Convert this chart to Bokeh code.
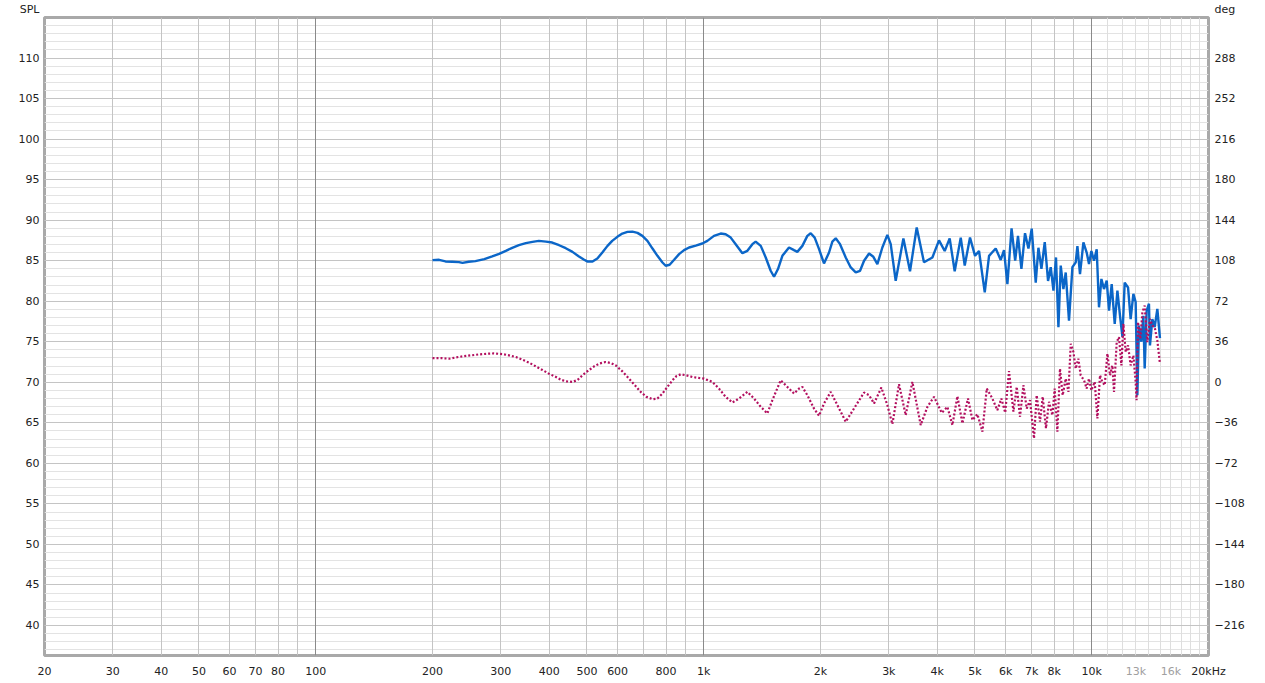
from bokeh.plotting import figure
from bokeh.models import FixedTicker, Grid, LinearAxis, LogAxis, Range1d
from bokeh.embed import file_html
from bokeh.resources import INLINE

# ---- data ----
spl_freq = [200, 208, 216, 225, 234, 239, 248, 258, 272, 285, 297, 309, 321, 334, 348, 362,
            376, 392, 407, 424, 441, 459, 477, 492, 501, 517, 532, 548, 565, 581, 599, 617,
            636, 655, 675, 695, 716, 738, 760, 783, 798, 817, 839, 864, 890, 917, 954, 992,
            1022, 1063, 1106, 1139, 1174, 1209, 1258, 1296, 1335, 1361, 1403, 1445, 1488,
            1518, 1554, 1595, 1659, 1709, 1743, 1796, 1850, 1887, 1932, 1983, 2042, 2104,
            2146, 2189, 2246, 2323, 2393, 2465, 2529, 2590, 2668, 2737, 2803, 2887, 2974,
            3034, 3125, 3271, 3402, 3540, 3696, 3885, 4041, 4180, 4305, 4435, 4597, 4707,
            4857, 5004, 5124, 5301, 5438, 5657, 5828, 5943, 6063, 6215, 6350, 6457, 6589,
            6732, 6870, 7005, 7174, 7289, 7421, 7568, 7718, 7842, 7969, 8091, 8208, 8321,
            8455, 8571, 8740, 8919, 9095, 9187, 9329, 9520, 9707, 9842, 9982, 10137, 10301,
            10443, 10593, 10757, 10932, 11082, 11260, 11464, 11648, 11830, 12000, 12162,
            12407, 12600, 12806, 12980, 13114, 13240, 13430, 13588, 13695, 13858, 14048,
            14130, 14332, 14530, 14763, 14995]
spl_db = [85.07, 85.11, 84.91, 84.87, 84.83, 84.74, 84.87, 84.95, 85.19, 85.52, 85.85, 86.22,
          86.59, 86.91, 87.16, 87.32, 87.45, 87.36, 87.24, 86.91, 86.54, 86.09, 85.52, 85.11,
          84.91, 84.91, 85.28, 86.01, 86.83, 87.45, 87.94, 88.35, 88.55, 88.59, 88.43, 88.06,
          87.45, 86.5, 85.6, 84.78, 84.38, 84.5, 85.11, 85.81, 86.3, 86.63, 86.87, 87.12,
          87.45, 88.06, 88.35, 88.26, 87.85, 87.04, 85.93, 86.22, 87.04, 87.36, 86.83, 85.4,
          83.76, 83.02, 83.97, 85.6, 86.63, 86.3, 86.09, 86.83, 88.06, 88.39, 87.85, 86.42,
          84.66, 86.01, 87.36, 87.77, 87.04, 85.4, 84.17, 83.56, 83.76, 84.99, 85.89, 85.48,
          84.58, 86.63, 88.18, 87.04, 82.53, 87.75, 83.7, 89.1, 84.8, 85.4, 87.5, 86.2, 87.75,
          83.7, 87.85, 84.4, 87.85, 85.6, 86.2, 81.1, 85.6, 86.5, 85.1, 86.3, 82.1, 89.0,
          85.0, 88.05, 84.0, 88.4, 86.5, 88.95, 82.3, 86.6, 84.0, 87.3, 82.5, 84.2, 81.3,
          85.4, 76.8, 84.4, 81.5, 83.55, 77.6, 84.2, 84.8, 86.8, 83.35, 87.25, 86.0, 84.6,
          86.2, 85.0, 86.4, 79.25, 82.75, 81.5, 82.55, 78.85, 82.1, 77.2, 81.3, 78.2, 75.6,
          82.3, 81.7, 77.8, 80.9, 79.9, 68.4, 77.0, 75.0, 78.2, 71.7, 78.85, 79.7, 74.55,
          77.8, 76.8, 79.05, 75.45]

phase_freq = [200, 210, 221, 230, 239, 251, 264, 277, 288, 303, 315, 328, 341, 355, 369, 384,
              399, 416, 428, 441, 459, 473, 487, 504, 522, 540, 559, 576, 593, 617, 642, 665,
              688, 712, 738, 760, 783, 806, 831, 851, 873, 902, 935, 973, 1002, 1053, 1095,
              1139, 1186, 1233, 1296, 1348, 1403, 1459, 1503, 1579, 1643, 1709, 1761, 1796,
              1850, 1924, 1983, 2042, 2125, 2211, 2323, 2440, 2590, 2668, 2748, 2870, 2974,
              3064, 3187, 3316, 3450, 3625, 3772, 3923, 4106, 4247, 4375, 4507, 4643, 4800,
              4928, 5075, 5228, 5364, 5546, 5713, 5850, 5985, 6122, 6284, 6409, 6535, 6668,
              6800, 6935, 7100, 7214, 7358, 7477, 7624, 7761, 7919, 8028, 8157, 8284, 8418,
              8571, 8710, 8831, 8972, 9095, 9240, 9368, 9555, 9707, 9842, 9982, 10180, 10344,
              10505, 10647, 10801, 10976, 11148, 11306, 11415, 11600, 11759, 11926, 12069,
              12235, 12407, 12600, 12806, 12980, 13050, 13160, 13350, 13510, 13695, 13910,
              14130, 14332, 14530, 14763, 14995]
phase_deg = [21.54, 21.54, 20.95, 22.14, 23.02, 23.9, 24.79, 25.38, 25.67, 25.08, 23.9, 22.43,
             20.07, 17.42, 14.18, 10.94, 7.7, 4.74, 2.39, 0.91, 0.32, 2.09, 6.22, 10.35, 14.18,
             16.83, 18.01, 17.12, 15.06, 9.76, 3.27, -2.63, -8.52, -12.94, -15.0, -14.41,
             -9.99, -4.1, 1.8, 5.63, 7.1, 6.22, 4.74, 3.86, 3.27, 0.33, -5.56, -12.93, -17.94,
             -14.4, -8.51, -14.4, -21.77, -27.67, -15.88, 1.8, -4.09, -9.98, -5.56, -4.09,
             -11.46, -23.25, -29.73, -18.83, -8.51, -20.3, -35.04, -23.25, -9.1, -11.46,
             -18.83, -4.68, -20.3, -37.1, -1.73, -29.2, 0.4, -38.0, -21.8, -12.9, -27.1, -21.8,
             -38.0, -12.4, -36.5, -14.4, -33.6, -28.3, -43.9, -5.6, -14.4, -24.8, -14.4, -27.0,
             10.0, -26.0, -4.0, -30.6, -2.6, -23.3, -15.9, -49.8, -11.5, -35.0, -12.9, -40.9,
             -17.3, -29.2, -5.6, -43.9, 12.1, -11.5, 3.3, -8.5, 34.2, 26.9, 12.1, 21.0, 6.2,
             1.8, -5.6, 3.3, -7.1, 0.4, -32.1, 6.2, 0.4, -2.6, 25.4, 6.2, 15.0, -8.5, 35.7,
             40.1, 15.0, 51.9, 26.9, 32.7, 15.0, 23.9, 0.4, -15.9, 53.4, 38.6, 62.2, 68.1, 35.7,
             56.3, 50.4, 49.0, 37.1, 16.5]

x_ticks = [20, 30, 40, 50, 60, 70, 80, 100, 200, 300, 400, 500, 600, 800,
           1000, 2000, 3000, 4000, 5000, 6000, 7000, 8000, 10000, 20000]
x_tick_labels = ["20", "30", "40", "50", "60", "70", "80", "100", "200", "300", "400",
                 "500", "600", "800", "1k", "2k", "3k", "4k", "5k", "6k", "7k", "8k",
                 "10k", "20kHz"]
x_grey_ticks = [13000, 16000]
x_grey_labels = ["13k", "16k"]
spl_ticks = list(range(40, 111, 5))
deg_ticks = list(range(-216, 289, 36))
spl_unit, deg_unit = "SPL", "deg"

grid_regular = [20, 30, 40, 50, 60, 70, 80, 90, 200, 300, 400, 500, 600, 700, 800, 900,
                2000, 3000, 4000, 5000, 6000, 7000, 8000, 9000, 20000]
grid_decades = [100, 1000, 10000]
grid_fine = [11000, 12000, 13000, 14000, 15000, 16000, 17000, 18000, 19000]

Y0, Y1 = 36.3, 115.0
DEG_PER_DB = 7.2
D0, D1 = (Y0 - 70) * DEG_PER_DB, (Y1 - 70) * DEG_PER_DB

FONT = "DejaVu Sans"
FS = "11px"
TXT = "#222222"

FL, FR, FT, FB = 44, 49, 17, 22      # borders around the plotting frame
W, H = 1257, 680

p = figure(width=W, height=H, x_axis_type="log",
           x_range=Range1d(20, 20000), y_range=Range1d(Y0, Y1),
           output_backend="svg", toolbar_location=None,
           min_border_left=FL, min_border_right=FR, min_border_top=FT, min_border_bottom=FB,
           background_fill_color="white", border_fill_color="white")
p.extra_y_ranges = {"deg": Range1d(D0, D1)}

p.grid.visible = False
p.outline_line_color = "#a9a9a9"
p.outline_line_width = 3

# grids
p.add_layout(Grid(dimension=1, ticker=FixedTicker(ticks=list(range(37, 115))),
                  grid_line_color="#e3e3e3", grid_line_width=1), "center")
p.add_layout(Grid(dimension=0, ticker=FixedTicker(ticks=grid_fine),
                  grid_line_color="#dedede", grid_line_width=1), "center")
p.add_layout(Grid(dimension=0, ticker=FixedTicker(ticks=grid_regular),
                  grid_line_color="#c4c4c4", grid_line_width=1), "center")
p.add_layout(Grid(dimension=1, ticker=FixedTicker(ticks=spl_ticks),
                  grid_line_color="#c4c4c4", grid_line_width=1), "center")
p.add_layout(Grid(dimension=0, ticker=FixedTicker(ticks=grid_decades),
                  grid_line_color="#8a8a8a", grid_line_width=1), "center")

# axes
xa = p.xaxis[0]
xa.ticker = FixedTicker(ticks=x_ticks)
xa.major_label_overrides = {t: l for t, l in zip(x_ticks, x_tick_labels)}
xg = LogAxis(ticker=FixedTicker(ticks=x_grey_ticks),
             major_label_overrides={t: l for t, l in zip(x_grey_ticks, x_grey_labels)})
p.add_layout(xg, "below")

ya = p.yaxis[0]
ya.ticker = FixedTicker(ticks=spl_ticks + [Y1])
ya.major_label_overrides = {Y1: spl_unit + "\n "}
ra = LinearAxis(y_range_name="deg", ticker=FixedTicker(ticks=deg_ticks + [D1]))
ra.major_label_overrides = {D1: deg_unit + "\n "}
p.add_layout(ra, "right")

for ax in (xa, xg, ya, ra):
    ax.axis_line_color = None
    ax.major_tick_line_color = None
    ax.minor_tick_line_color = None
    ax.major_tick_out = 0
    ax.major_tick_in = 0
    ax.minor_tick_out = 0
    ax.minor_tick_in = 0
    ax.major_label_text_font = FONT
    ax.major_label_text_font_size = FS
    ax.major_label_text_color = TXT
xg.major_label_text_color = "#a0a0a0"
xa.major_label_standoff = 9
xg.major_label_standoff = -16
ya.major_label_standoff = 5
ra.major_label_standoff = 6

# curves
p.line(spl_freq, spl_db, line_color="#0b66c8", line_width=2.4)
p.line(phase_freq, phase_deg, y_range_name="deg", line_color="#b3105f",
       line_width=2.2, line_dash="2 2")

open("out.html", "w").write(file_html(p, INLINE))
